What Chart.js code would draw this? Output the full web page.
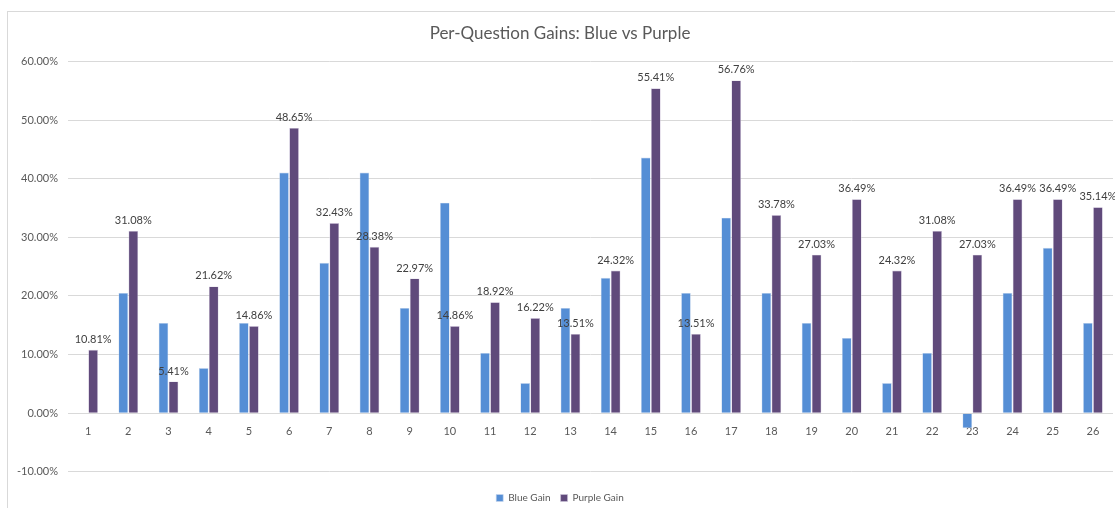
<!DOCTYPE html>
<html>
<head>
<meta charset="utf-8">
<script src="https://cdn.jsdelivr.net/npm/chart.js@4/dist/chart.umd.min.js"></script>
<style>
  html, body { margin:0; padding:0; background:#fff; }
  #wrap { position:relative; width:1115px; height:508px; overflow:hidden; }
  #frame { position:absolute; left:7px; top:11px; width:1200px; height:600px;
           border-left:1px solid #d9d9d9; border-top:1px solid #d9d9d9; }
  canvas { position:absolute; left:0; top:0; }
</style>
</head>
<body>
<div id="wrap">
  <div id="frame"></div>
  <canvas id="chart" width="1115" height="508"></canvas>
</div>
<script>
// data (percent)
const questions = ['1','2','3','4','5','6','7','8','9','10','11','12','13','14','15','16','17','18','19','20','21','22','23','24','25','26'];
const blueGain = [0, 20.51, 15.38, 7.69, 15.38, 41.03, 25.64, 41.03, 17.95, 35.90, 10.26, 5.13, 17.95, 23.08, 43.59, 20.51, 33.33, 20.51, 15.38, 12.82, 5.13, 10.26, -2.56, 20.51, 28.21, 15.38];
const purpleGain = [10.81, 31.08, 5.41, 21.62, 14.86, 48.65, 32.43, 28.38, 22.97, 14.86, 18.92, 16.22, 13.51, 24.32, 55.41, 13.51, 56.76, 33.78, 27.03, 36.49, 24.32, 31.08, 27.03, 36.49, 36.49, 35.14];
const yTicks = [-10, 0, 10, 20, 30, 40, 50, 60];

const FONT = 'Lato, "Open Sans", sans-serif';
const TXT = '#595959';

// labels above the purple bars only
const purpleLabels = {
  id: 'purpleLabels',
  afterDatasetsDraw(chart){
    const ctx = chart.ctx;
    const meta = chart.getDatasetMeta(1);
    ctx.save();
    ctx.font = '11px ' + FONT;
    ctx.fillStyle = '#404040';
    ctx.textAlign = 'center';
    ctx.textBaseline = 'bottom';
    meta.data.forEach((bar, i)=>{
      ctx.fillText(purpleGain[i].toFixed(2) + '%', bar.x, bar.y - 5);
    });
    ctx.restore();
  }
};

new Chart(document.getElementById('chart').getContext('2d'), {
  type: 'bar',
  data: {
    labels: questions,
    datasets: [
      {
        label: 'Blue Gain',
        data: blueGain,
        backgroundColor: '#558ed5',
        borderColor: '#c9d8ee',
        borderWidth: 0.6,
        categoryPercentage: 0.5,
        barPercentage: 0.96
      },
      {
        label: 'Purple Gain',
        data: purpleGain,
        backgroundColor: '#604a7b',
        borderColor: '#cfc6dc',
        borderWidth: 0.6,
        categoryPercentage: 0.5,
        barPercentage: 0.96
      }
    ]
  },
  options: {
    responsive: false,
    animation: false,
    layout: { padding: { left: 7, right: 2, top: 0, bottom: -5 } },
    scales: {
      x: {
        position: { y: 0 },
        grid: { display: false },
        border: { display: false },
        ticks: { color: TXT, font: { family: FONT, size: 11 }, padding: 4, maxRotation: 0 }
      },
      y: {
        min: -10,
        max: 60,
        afterBuildTicks: (scale)=>{ scale.ticks = yTicks.map(v=>({value:v})); },
        grid: { color: '#d9d9d9', drawTicks: false, lineWidth: 1 },
        border: { display: false },
        ticks: {
          color: TXT, font: { family: FONT, size: 11 }, padding: 10,
          callback: v => v.toFixed(2) + '%'
        }
      }
    },
    plugins: {
      title: {
        display: true,
        text: 'Per-Question Gains: Blue vs Purple',
        color: TXT,
        font: { family: FONT, size: 17, weight: 'normal' },
        padding: { top: 23, bottom: 18 }
      },
      legend: {
        position: 'bottom',
        title: { display: true, text: ' ', font: { size: 1 }, padding: { top: 0, bottom: 10 } },
        labels: {
          color: TXT, font: { family: FONT, size: 10 },
          boxWidth: 7, boxHeight: 7, padding: 10
        }
      },
      tooltip: { enabled: false }
    }
  },
  plugins: [purpleLabels]
});
</script>
</body>
</html>
